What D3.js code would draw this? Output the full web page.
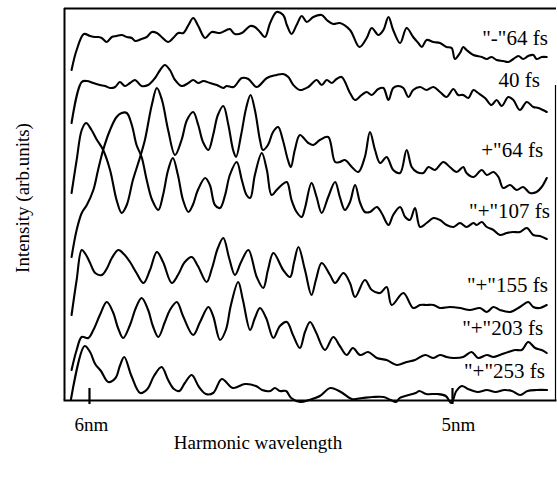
<!DOCTYPE html>
<html><head><meta charset="utf-8">
<script src="https://cdn.jsdelivr.net/npm/d3@7"></script>
<style>
body{margin:0;background:#fff}
svg{display:block}
text{font-family:"Liberation Serif","Times New Roman",serif;fill:#000}
</style>
</head><body>
<svg id="chart" width="557" height="485"></svg>
<script>
// ---- data: wavelength (nm), intensity (arb. units, stacked) ----
const seriesLabels = ['"-"64 fs', '40 fs', '+"64 fs', '"+"107 fs', '"+"155 fs', '"+"203 fs', '"+"253 fs'];
const tickValues = [6, 5];
const tickLabels = ["6nm", "5nm"];
const xTitle = "Harmonic wavelength";
const yTitle = "Intensity (arb.units)";
// label anchor (right end) in data units
const labelNm = [4.736, 4.758, 4.749, 4.730, 4.736, 4.749, 4.744];
const labelLevel = [38.7, 34.5, 27.5, 21.4, 14.0, 9.7, 5.4];

const traceMinus64 = [[6.048,36.2],[6.034,38.2],[6.014,39.8],[5.997,39.6],[5.983,39.5],[5.974,39.5],[5.965,39.4],[5.951,39.0],[5.937,39.5],[5.924,39.6],[5.910,39.7],[5.896,39.5],[5.882,39.4],[5.873,39.1],[5.855,39.3],[5.841,39.5],[5.827,40.0],[5.813,39.9],[5.800,39.5],[5.782,39.0],[5.768,39.4],[5.754,39.9],[5.740,39.9],[5.726,40.7],[5.713,41.4],[5.699,40.6],[5.680,39.4],[5.662,40.0],[5.639,39.9],[5.621,40.2],[5.612,40.3],[5.598,39.8],[5.579,39.9],[5.556,40.6],[5.543,40.5],[5.529,40.0],[5.515,39.5],[5.501,40.9],[5.483,42.0],[5.465,41.7],[5.455,40.7],[5.442,39.8],[5.428,40.7],[5.414,41.6],[5.400,41.0],[5.382,41.5],[5.359,41.7],[5.345,41.2],[5.327,40.8],[5.309,40.9],[5.281,40.2],[5.255,38.5],[5.235,39.4],[5.221,40.4],[5.203,39.7],[5.189,40.2],[5.175,41.5],[5.162,40.2],[5.143,38.9],[5.125,40.4],[5.107,39.5],[5.093,38.9],[5.083,38.5],[5.070,39.2],[5.051,39.0],[5.033,38.9],[5.015,38.5],[5.001,38.4],[4.992,37.3],[4.978,37.9],[4.969,38.5],[4.960,38.2],[4.941,37.7],[4.918,37.5],[4.904,37.3],[4.891,37.5],[4.877,37.2],[4.859,37.1],[4.845,37.0],[4.831,37.3],[4.817,37.6],[4.804,37.3],[4.790,37.6],[4.776,37.7],[4.767,37.3],[4.753,37.5],[4.739,37.5]];

const trace40 = [[6.048,30.9],[6.020,35.0],[6.006,35.1],[5.988,34.9],[5.970,34.7],[5.956,34.6],[5.942,34.4],[5.928,34.5],[5.915,35.0],[5.901,34.6],[5.887,34.9],[5.873,35.2],[5.855,34.6],[5.837,34.7],[5.818,35.4],[5.804,36.2],[5.791,36.7],[5.777,36.2],[5.763,35.2],[5.745,34.6],[5.726,34.9],[5.713,35.2],[5.699,34.9],[5.685,35.1],[5.667,34.9],[5.648,34.7],[5.630,34.4],[5.621,34.6],[5.602,34.5],[5.579,35.4],[5.561,35.3],[5.538,34.5],[5.510,35.4],[5.483,35.7],[5.465,35.8],[5.451,35.5],[5.437,34.7],[5.419,34.2],[5.396,34.5],[5.373,35.2],[5.359,34.7],[5.345,35.2],[5.331,34.9],[5.318,35.3],[5.304,35.5],[5.281,33.9],[5.267,33.2],[5.249,33.7],[5.235,34.0],[5.221,33.7],[5.203,34.3],[5.189,34.4],[5.175,33.2],[5.162,34.4],[5.148,34.6],[5.134,34.4],[5.120,33.5],[5.107,34.2],[5.088,34.5],[5.070,34.2],[5.051,34.5],[5.033,34.0],[5.015,33.5],[4.996,34.3],[4.983,33.7],[4.969,33.7],[4.955,33.4],[4.941,34.2],[4.928,33.9],[4.909,33.4],[4.891,32.7],[4.877,33.2],[4.863,32.6],[4.845,33.5],[4.831,33.2],[4.813,32.2],[4.794,33.0],[4.776,32.5],[4.762,32.4],[4.739,32.0]];

const tracePlus64 = [[6.048,23.9],[6.034,27.2],[6.020,30.2],[6.008,30.9],[5.993,30.2],[5.978,29.2],[5.961,28.2],[5.942,26.2],[5.924,23.2],[5.910,21.9],[5.896,22.7],[5.879,25.2],[5.860,27.4],[5.846,29.2],[5.827,32.7],[5.813,34.4],[5.799,33.2],[5.782,30.2],[5.763,27.7],[5.745,29.2],[5.730,31.2],[5.713,32.0],[5.699,30.7],[5.686,29.0],[5.671,28.2],[5.658,29.7],[5.645,31.7],[5.630,32.6],[5.616,30.7],[5.603,28.2],[5.595,27.5],[5.581,29.7],[5.567,32.4],[5.555,33.7],[5.543,32.2],[5.529,29.2],[5.521,28.2],[5.507,28.7],[5.493,30.0],[5.479,30.5],[5.466,29.2],[5.452,27.2],[5.444,26.5],[5.433,28.2],[5.419,29.7],[5.396,28.9],[5.382,28.7],[5.364,29.2],[5.341,29.5],[5.322,27.0],[5.309,27.0],[5.295,27.2],[5.276,26.5],[5.258,26.0],[5.240,27.5],[5.226,30.0],[5.212,28.2],[5.198,26.9],[5.180,27.5],[5.162,26.2],[5.143,25.9],[5.125,28.2],[5.111,26.5],[5.097,26.0],[5.079,25.9],[5.065,26.5],[5.047,26.2],[5.024,27.0],[5.006,26.5],[4.987,26.0],[4.969,26.5],[4.960,25.9],[4.941,25.5],[4.918,26.2],[4.904,25.7],[4.886,26.0],[4.872,25.5],[4.859,24.4],[4.840,24.7],[4.822,24.2],[4.804,24.5],[4.785,23.9],[4.767,24.0],[4.753,24.5],[4.739,25.4]];

const trace107 = [[6.048,17.5],[6.034,20.2],[6.020,21.9],[6.006,22.7],[5.988,24.2],[5.975,26.2],[5.961,28.2],[5.942,30.2],[5.924,31.5],[5.910,31.9],[5.896,31.9],[5.882,30.7],[5.869,28.7],[5.855,27.5],[5.841,25.2],[5.826,23.2],[5.809,22.2],[5.796,23.7],[5.782,26.2],[5.769,27.4],[5.755,25.7],[5.741,23.2],[5.726,22.0],[5.714,22.7],[5.700,24.2],[5.680,25.4],[5.667,24.7],[5.653,22.7],[5.639,22.4],[5.625,23.7],[5.612,25.7],[5.593,27.0],[5.579,25.2],[5.566,23.7],[5.556,23.4],[5.543,25.7],[5.524,27.9],[5.510,26.2],[5.497,23.7],[5.483,24.2],[5.469,24.7],[5.455,25.0],[5.442,23.2],[5.428,22.0],[5.414,21.5],[5.405,22.4],[5.387,24.9],[5.373,23.5],[5.359,21.9],[5.341,23.5],[5.322,25.0],[5.309,23.5],[5.295,22.2],[5.281,23.0],[5.267,24.7],[5.253,22.9],[5.240,22.0],[5.226,22.0],[5.207,22.5],[5.194,21.9],[5.175,20.7],[5.162,21.7],[5.143,22.5],[5.129,21.5],[5.116,21.2],[5.102,22.4],[5.088,20.5],[5.070,20.9],[5.051,21.4],[5.033,21.2],[5.015,20.7],[4.996,20.5],[4.978,20.9],[4.960,20.5],[4.941,20.9],[4.932,20.7],[4.918,21.0],[4.904,20.5],[4.886,20.2],[4.868,19.7],[4.849,19.9],[4.831,20.0],[4.813,20.0],[4.794,20.4],[4.776,19.7],[4.758,19.6],[4.739,19.3]];

const trace155 = [[6.048,11.7],[6.034,15.2],[6.020,18.2],[6.008,17.7],[5.997,16.9],[5.983,15.9],[5.965,15.7],[5.950,16.4],[5.937,17.4],[5.919,18.2],[5.904,17.8],[5.887,17.0],[5.869,15.9],[5.850,14.9],[5.832,16.2],[5.813,18.0],[5.796,17.0],[5.772,14.9],[5.755,15.7],[5.736,17.0],[5.717,17.5],[5.700,16.6],[5.676,15.0],[5.661,16.4],[5.645,18.4],[5.630,19.4],[5.614,17.4],[5.598,15.7],[5.581,17.0],[5.561,18.2],[5.538,15.5],[5.520,14.4],[5.507,16.2],[5.492,17.9],[5.465,16.2],[5.446,15.5],[5.435,17.0],[5.423,18.5],[5.405,16.2],[5.387,13.7],[5.375,15.2],[5.359,16.9],[5.336,15.7],[5.322,14.9],[5.299,15.9],[5.281,14.9],[5.267,13.5],[5.240,15.2],[5.221,14.2],[5.198,13.9],[5.180,14.5],[5.166,12.7],[5.134,13.9],[5.107,12.4],[5.088,12.7],[5.070,12.7],[5.051,12.7],[5.033,12.4],[5.006,12.5],[4.978,12.4],[4.951,12.2],[4.923,12.4],[4.904,12.0],[4.886,12.5],[4.868,12.2],[4.840,12.0],[4.813,12.5],[4.790,13.0],[4.776,12.5],[4.758,12.4],[4.739,12.7]];

const trace203 = [[6.048,6.2],[6.034,8.2],[6.020,9.5],[6.002,9.4],[5.988,10.2],[5.970,11.7],[5.951,13.0],[5.934,12.0],[5.920,10.4],[5.906,9.4],[5.887,10.7],[5.871,12.4],[5.855,13.4],[5.837,12.2],[5.824,10.6],[5.809,9.5],[5.791,11.0],[5.777,12.2],[5.758,13.0],[5.741,11.6],[5.713,9.7],[5.694,11.0],[5.671,12.5],[5.658,11.6],[5.639,9.2],[5.623,10.2],[5.609,12.7],[5.589,15.0],[5.576,13.2],[5.556,10.2],[5.543,11.4],[5.529,12.4],[5.512,11.4],[5.492,9.4],[5.474,10.6],[5.455,11.0],[5.438,9.7],[5.419,8.4],[5.405,10.0],[5.391,11.0],[5.375,10.0],[5.350,8.2],[5.327,9.5],[5.309,8.6],[5.290,7.7],[5.273,8.4],[5.253,7.7],[5.231,8.0],[5.207,7.4],[5.180,7.2],[5.152,6.7],[5.125,7.0],[5.102,7.2],[5.074,7.7],[5.051,7.4],[5.033,7.7],[5.015,7.5],[4.996,7.4],[4.969,7.5],[4.946,8.0],[4.928,7.4],[4.904,7.7],[4.886,7.5],[4.868,7.7],[4.845,8.0],[4.826,8.2],[4.808,8.2],[4.790,9.0],[4.771,8.4],[4.753,8.2],[4.739,7.9]];

const trace253 = [[6.050,3.2],[6.012,8.6],[5.997,8.0],[5.983,6.8],[5.967,6.1],[5.947,5.0],[5.927,5.4],[5.915,6.6],[5.903,7.5],[5.883,5.6],[5.859,3.9],[5.839,4.3],[5.821,5.6],[5.800,6.5],[5.782,5.2],[5.766,4.3],[5.751,4.1],[5.736,4.9],[5.717,5.7],[5.697,4.5],[5.678,3.8],[5.658,3.9],[5.634,5.3],[5.604,4.4],[5.570,4.8],[5.540,4.6],[5.523,4.2],[5.501,4.1],[5.488,4.4],[5.474,4.1],[5.457,4.1],[5.443,3.4],[5.418,3.0],[5.394,3.2],[5.364,3.6],[5.335,4.4],[5.306,4.0],[5.276,3.3],[5.247,3.4],[5.218,3.5],[5.188,3.5],[5.169,3.2],[5.154,3.0],[5.144,3.4],[5.129,3.6],[5.100,3.9],[5.090,4.1],[5.071,3.8],[5.041,3.8],[5.017,3.6],[5.002,2.9],[4.988,4.1],[4.973,4.6],[4.956,4.3],[4.929,4.0],[4.904,4.2],[4.880,4.0],[4.856,4.2],[4.835,4.1],[4.812,3.7],[4.792,4.1],[4.767,4.2],[4.738,4.2]];

const traces = [traceMinus64, trace40, tracePlus64, trace107, trace155, trace203, trace253];

// ---- layout ----
const svg = d3.select("#chart");
const x = d3.scaleLinear().domain([6.0716, 4.7135]).range([63, 556]);
const y = d3.scaleLinear().domain([3.2, 42.4]).range([400, 8]);
const yBase = y.range()[0];

// frame
const frame = svg.append("g").attr("fill", "none").attr("stroke", "#000");
frame.append("line").attr("x1", 64.5).attr("x2", 64.5).attr("y1", 8).attr("y2", yBase).attr("stroke-width", 2);
frame.append("line").attr("x1", 64).attr("x2", 556).attr("y1", 8.5).attr("y2", 8.5).attr("stroke-width", 1.8);
frame.append("line").attr("x1", 555.5).attr("x2", 555.5).attr("y1", 85).attr("y2", yBase).attr("stroke-width", 1.2);

// x axis
const ax = svg.append("g").attr("transform", `translate(0,${yBase})`)
  .call(d3.axisBottom(x).tickValues(tickValues).tickFormat((d, i) => tickLabels[i])
    .tickSizeInner(-12).tickSizeOuter(0).tickPadding(18));
ax.select(".domain").attr("stroke", "#000").attr("stroke-width", 2);
ax.selectAll(".tick line").attr("stroke", "#000").attr("stroke-width", 2.2).attr("y1", 4).attr("y2", -12);
ax.selectAll(".tick text").attr("font-size", 19).attr("font-family", '"Liberation Serif",serif')
  .attr("dx", (d, i) => [2, 6][i]).attr("fill", "#000");

// traces
const line = d3.line().x(d => x(d[0])).y(d => y(d[1])).curve(d3.curveCatmullRom.alpha(0.5));
svg.append("g").selectAll("path").data(traces).join("path")
  .attr("d", line).attr("fill", "none").attr("stroke", "#000")
  .attr("stroke-width", 2.1).attr("stroke-linejoin", "round").attr("stroke-linecap", "round");

// labels
svg.append("g").selectAll("text").data(seriesLabels).join("text")
  .attr("x", (d, i) => x(labelNm[i])).attr("y", (d, i) => y(labelLevel[i]))
  .attr("text-anchor", "end").attr("font-size", 21).text(d => d);

// titles
svg.append("text").attr("x", 258).attr("y", 449).attr("text-anchor", "middle").attr("font-size", 19).text(xTitle);
svg.append("text").attr("transform", "translate(29,198) rotate(-90)").attr("text-anchor", "middle").attr("font-size", 19).text(yTitle);
</script>
</body></html>
